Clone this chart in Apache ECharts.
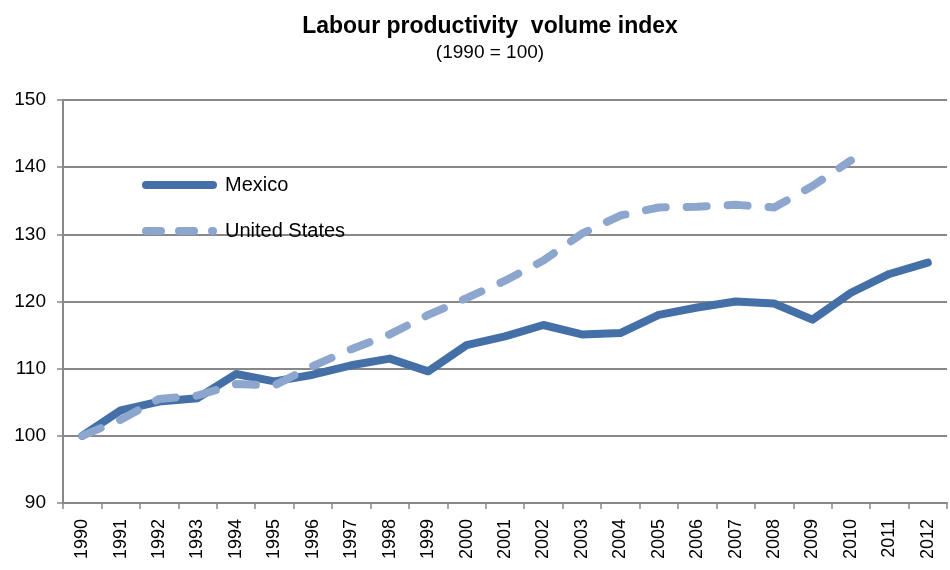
<!DOCTYPE html>
<html><head><meta charset="utf-8">
<script src="https://cdn.jsdelivr.net/npm/echarts@6/dist/echarts.min.js"></script>
<style>html,body{margin:0;padding:0;background:#fff}#c{width:950px;height:570px}</style>
</head><body><div id="c"></div>
<script>
const years = ['1990','1991','1992','1993','1994','1995','1996','1997','1998','1999','2000','2001','2002','2003','2004','2005','2006','2007','2008','2009','2010','2011','2012'];
const mexico = [100,103.8,105.1,105.6,109.2,108.1,109.1,110.5,111.5,109.6,113.5,114.8,116.5,115.1,115.3,118.0,119.1,120.0,119.7,117.3,121.3,124.1,125.8];
const unitedStates = [100,102.4,105.5,106.0,107.7,107.5,110.4,112.9,115.1,118.0,120.5,123.1,126.1,130.1,132.8,134.0,134.1,134.4,134.0,137.2,141.0,null,null];
const yTicks = {min:90, max:150, interval:10};

const chart = echarts.init(document.getElementById('c'), null, {renderer:'canvas'});
const font = 'Liberation Sans';
const cMex = '#4470A7', cUS = '#8DA6CE';
chart.setOption({
  animation:false,
  title:{
    text:'Labour productivity  volume index',
    subtext:'(1990 = 100)',
    left:485, top:10, textAlign:'center', itemGap:5,
    textStyle:{fontFamily:font, fontSize:23, fontWeight:'bold', color:'#000'},
    subtextStyle:{fontFamily:font, fontSize:19, color:'#000'}
  },
  legend:{
    orient:'vertical', left:137, top:170, itemGap:26, itemWidth:67, itemHeight:22,
    textStyle:{fontFamily:font, fontSize:20, color:'#000', padding:[0,0,0,7]},
    itemStyle:{opacity:0},
    data:[
      {name:'Mexico', lineStyle:{width:8, cap:'round', color:cMex}},
      {name:'United States', lineStyle:{width:8, cap:'round', type:[15,18], color:cUS}}
    ]
  },
  grid:{left:63, right:3, top:100, bottom:67, containLabel:false},
  xAxis:{
    type:'category', data:years, boundaryGap:true,
    axisLine:{lineStyle:{color:'#888', width:2}},
    axisTick:{show:true, length:6, lineStyle:{color:'#888', width:1.5}, alignWithLabel:false},
    axisLabel:{rotate:90, fontFamily:font, fontSize:18, color:'#000', margin:16, interval:0}
  },
  yAxis:{
    type:'value', min:yTicks.min, max:yTicks.max, interval:yTicks.interval,
    axisLine:{show:true, lineStyle:{color:'#888', width:2}},
    axisTick:{show:true, length:6, lineStyle:{color:'#888', width:1.5}},
    splitLine:{lineStyle:{color:'#888', width:2}},
    axisLabel:{fontFamily:font, fontSize:19, color:'#000', margin:17}
  },
  series:[
    {name:'Mexico', type:'line', data:mexico, symbol:'none', smooth:false,
     lineStyle:{color:cMex, width:8, cap:'round', join:'round'}, itemStyle:{color:cMex}, z:2},
    {name:'United States', type:'line', data:unitedStates, symbol:'none', smooth:false,
     lineStyle:{color:cUS, width:8, type:[20,21], cap:'round', join:'round'}, itemStyle:{color:cUS}, z:3}
  ]
});
</script></body></html>
